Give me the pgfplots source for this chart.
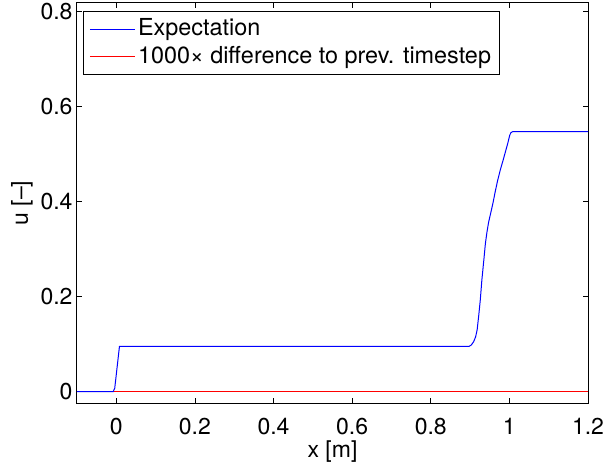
\documentclass[border=0pt]{standalone}
\usepackage{fontspec}
\setmainfont{TeX Gyre Heros}
\usepackage{pgfplots}
\pgfplotsset{compat=1.18}
\usetikzlibrary{calc}
\definecolor{mblue}{rgb}{0,0,1}
\definecolor{mred}{rgb}{1,0,0}
\begin{document}
\fontsize{23}{27}\selectfont
\begin{tikzpicture}
\begin{axis}[
  width=511pt, height=400pt, scale only axis,
  xmin=-0.1, xmax=1.2, ymin=-0.024, ymax=0.818,
  xtick={0,0.2,0.4,0.6,0.8,1,1.2},
  ytick={0,0.2,0.4,0.6,0.8},
  tick align=inside, tick pos=both,
  major tick length=5pt,
  tick style={black, line width=0.6pt},
  axis line style={black, line width=1pt},
  /pgf/number format/assume math mode=true,
  /pgf/number format/fixed,
  tick label style={font=\fontsize{23}{27}\selectfont},
  xticklabel style={yshift=-7pt},
  yticklabel style={xshift=3.4pt},
  xlabel={x [m]}, ylabel={u [--]},
  label style={font=\fontsize{23}{27}\selectfont},
  xlabel style={at={(axis description cs:0.5,-0.1225)}, anchor=center},
  ylabel style={at={(axis description cs:-0.1076,0.5)}, anchor=center},
  legend style={at={(0.0117,0.98)}, anchor=north west, draw=black, line width=0.8pt,
    font=\fontsize{23.4}{27}\selectfont, inner xsep=6pt, inner ysep=5pt,
    nodes={inner sep=2.5pt}, row sep=2pt},
  legend cell align=left,
  reverse legend,
  legend image code/.code={\draw[#1, line width=1.2pt] (0pt,0pt) -- (45pt,0pt);},
]
\addplot[color=mred, draw=mred, line width=1.2pt] coordinates {(-0.1,0) (1.2,0)};
\addlegendentry{1000× difference to prev. timestep}
\addplot[color=mblue, draw=mblue, line width=1pt] coordinates {
(-0.1,0) (-0.008,0) (-0.004,0.007) (0.008,0.095) (0.897,0.095) (0.903,0.098)
(0.909,0.105) (0.914,0.115) (0.918,0.130) (0.922,0.160) (0.926,0.193)
(0.930,0.235) (0.935,0.277) (0.939,0.312) (0.943,0.336) (0.947,0.356)
(0.952,0.374) (0.958,0.396) (0.964,0.421) (0.970,0.444) (0.977,0.467) (0.984,0.487)
(0.990,0.505) (0.996,0.523) (1.001,0.540) (1.004,0.545) (1.008,0.547) (1.2,0.547)
};
\addlegendentry{Expectation}
\end{axis}
\pgfresetboundingbox
\path[use as bounding box] ($(current axis.south west)+(-77pt,-63pt)$) rectangle ($(current axis.north east)+(20pt,3pt)$);
\end{tikzpicture}
\end{document}
